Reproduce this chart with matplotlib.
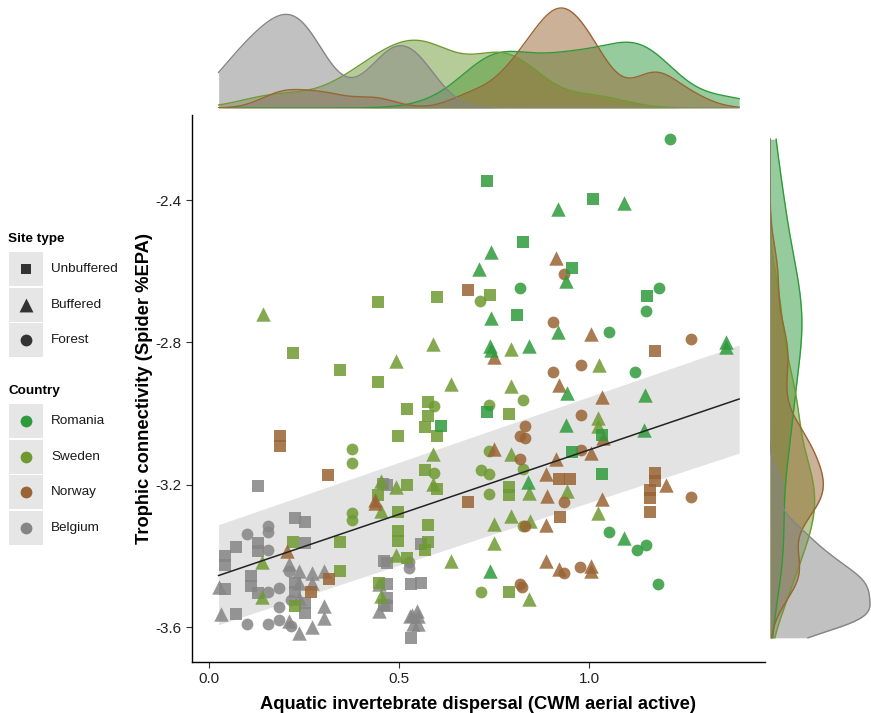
import matplotlib.pyplot as plt
import numpy as np

plt.rcParams['font.family'] = ['Liberation Sans', 'DejaVu Sans']

# ---- data ----
countries = ['Romania', 'Sweden', 'Norway', 'Belgium']
site_types = ['Unbuffered', 'Buffered', 'Forest']

romania_unbuffered = [(0.731, -2.346), (0.825, -2.519), (0.955, -2.592), (0.81, -2.724), (1.011, -2.397),
                      (1.153, -2.669), (0.731, -2.996), (0.611, -3.034), (0.954, -3.108), (1.033, -3.059),
                      (1.033, -3.169)]
romania_buffered = [(0.918, -2.426), (0.741, -2.547), (0.71, -2.594), (0.939, -2.627), (0.742, -2.731),
                    (0.918, -2.77), (0.74, -2.81), (0.742, -2.82), (0.841, -2.811), (1.093, -2.409),
                    (1.361, -2.798), (1.361, -2.812), (0.941, -2.942), (0.939, -3.033), (0.84, -3.193),
                    (0.74, -3.441), (1.147, -2.949), (1.145, -3.045), (1.092, -3.349)]
romania_forest = [(0.817, -2.646), (1.214, -2.229), (1.183, -2.646), (1.149, -2.711), (1.053, -2.77),
                  (1.12, -2.882), (1.053, -3.333), (1.127, -3.382), (1.149, -3.37), (1.182, -3.478)]

sweden_unbuffered = [(0.445, -2.687), (0.222, -2.829), (0.344, -2.878), (0.445, -2.91), (0.599, -2.672),
                     (0.74, -2.666), (0.575, -2.967), (0.521, -2.986), (0.789, -3.0), (0.575, -3.008),
                     (0.568, -3.038), (0.599, -3.062), (0.498, -3.064), (0.568, -3.158), (0.521, -3.202),
                     (0.599, -3.212), (0.789, -3.206), (0.789, -3.23), (0.498, -3.277), (0.575, -3.314),
                     (0.498, -3.329), (0.498, -3.357), (0.575, -3.361), (0.568, -3.382), (0.521, -3.407),
                     (0.789, -3.501), (0.445, -3.228), (0.345, -3.36), (0.222, -3.362), (0.345, -3.441),
                     (0.225, -3.541), (0.446, -3.476)]
sweden_buffered = [(0.141, -2.72), (0.589, -2.804), (0.795, -2.819), (0.492, -2.852), (0.637, -2.918),
                   (0.795, -2.922), (0.589, -3.113), (0.794, -3.113), (0.588, -3.199), (0.492, -3.206),
                   (0.843, -3.223), (0.941, -3.218), (0.795, -3.287), (0.751, -3.31), (0.845, -3.301),
                   (0.751, -3.363), (0.492, -3.396), (0.637, -3.413), (0.843, -3.52), (1.025, -2.863),
                   (1.024, -3.012), (1.024, -3.036), (1.024, -3.279), (0.452, -3.19), (0.452, -3.275),
                   (0.139, -3.416), (0.139, -3.516), (0.452, -3.513)]
sweden_forest = [(0.714, -2.683), (0.593, -2.978), (0.736, -2.975), (0.826, -2.963), (0.736, -3.104),
                 (0.593, -3.167), (0.715, -3.158), (0.736, -3.17), (0.826, -3.156), (0.736, -3.226),
                 (0.826, -3.317), (0.715, -3.502), (0.377, -3.099), (0.377, -3.14), (0.377, -3.279),
                 (0.377, -3.298)]

norway_unbuffered = [(0.681, -2.653), (1.174, -2.825), (0.186, -3.064), (0.186, -3.092), (0.314, -3.173),
                     (0.315, -3.466), (0.267, -3.5), (0.922, -3.185), (0.95, -3.185), (0.681, -3.248),
                     (0.924, -3.29), (1.174, -3.167), (1.174, -3.19), (1.16, -3.214), (1.16, -3.237),
                     (1.16, -3.276)]
norway_buffered = [(0.912, -2.564), (0.749, -2.84), (0.921, -2.92), (0.75, -3.099), (0.913, -3.129),
                   (0.887, -3.17), (0.888, -3.232), (0.887, -3.312), (0.887, -3.415), (0.921, -3.438),
                   (1.006, -2.775), (1.035, -2.953), (1.037, -3.069), (1.006, -3.111), (1.202, -3.202),
                   (1.035, -3.239), (1.006, -3.429), (1.006, -3.441), (0.436, -3.242), (0.436, -3.251),
                   (0.205, -3.387)]
norway_forest = [(0.935, -2.608), (0.905, -2.743), (0.978, -2.863), (0.906, -2.883), (1.269, -2.791),
                 (0.832, -3.036), (0.818, -3.064), (0.832, -3.069), (0.818, -3.129), (0.935, -3.249),
                 (0.832, -3.317), (0.935, -3.449), (0.976, -3.43), (0.818, -3.48), (0.823, -3.486),
                 (0.978, -3.003), (0.978, -3.103), (1.269, -3.235)]

belgium_unbuffered = [(0.129, -3.204), (0.458, -3.197), (0.225, -3.293), (0.253, -3.304), (0.072, -3.375),
                      (0.129, -3.363), (0.129, -3.387), (0.253, -3.364), (0.043, -3.4), (0.043, -3.425),
                      (0.111, -3.457), (0.111, -3.485), (0.043, -3.494), (0.129, -3.504), (0.225, -3.476),
                      (0.225, -3.5), (0.253, -3.532), (0.253, -3.56), (0.072, -3.563), (0.46, -3.415),
                      (0.46, -3.537), (0.468, -3.2), (0.468, -3.42), (0.557, -3.366), (0.468, -3.479),
                      (0.531, -3.479), (0.557, -3.476), (0.468, -3.518), (0.468, -3.541), (0.531, -3.63)]
belgium_buffered = [(0.211, -3.422), (0.237, -3.441), (0.272, -3.449), (0.303, -3.441), (0.025, -3.488),
                    (0.237, -3.476), (0.272, -3.476), (0.236, -3.518), (0.032, -3.563), (0.303, -3.541),
                    (0.303, -3.574), (0.21, -3.583), (0.272, -3.6), (0.236, -3.616), (0.446, -3.48),
                    (0.446, -3.555), (0.533, -3.565), (0.546, -3.556), (0.528, -3.57), (0.55, -3.57),
                    (0.537, -3.59), (0.55, -3.59)]
belgium_forest = [(0.155, -3.315), (0.155, -3.333), (0.1, -3.337), (0.155, -3.384), (0.211, -3.441),
                  (0.155, -3.501), (0.183, -3.49), (0.216, -3.523), (0.183, -3.543), (0.216, -3.597),
                  (0.183, -3.579), (0.1, -3.59), (0.155, -3.59), (0.527, -3.418), (0.527, -3.434)]

# fitted line and its ribbon
fit_x = [0.025, 1.395]
fit_y = [-3.455, -2.959]
fit_lo = [-3.593, -3.111]
fit_hi = [-3.312, -2.807]

x_ticks = [0.0, 0.5, 1.0]
y_ticks = [-2.4, -2.8, -3.2, -3.6]

groups = {
    'Romania': {'Unbuffered': romania_unbuffered, 'Buffered': romania_buffered, 'Forest': romania_forest},
    'Sweden': {'Unbuffered': sweden_unbuffered, 'Buffered': sweden_buffered, 'Forest': sweden_forest},
    'Norway': {'Unbuffered': norway_unbuffered, 'Buffered': norway_buffered, 'Forest': norway_forest},
    'Belgium': {'Unbuffered': belgium_unbuffered, 'Buffered': belgium_buffered, 'Forest': belgium_forest},
}

colors = {'Romania': '#2f9a3c', 'Sweden': '#6f9a33', 'Norway': '#9a6434', 'Belgium': '#858585'}
markers = {'Unbuffered': 's', 'Buffered': '^', 'Forest': 'o'}
msize = {'Unbuffered': 70, 'Buffered': 108, 'Forest': 72}

W, H = 871, 713
fig = plt.figure(figsize=(W / 100, H / 100), dpi=100)


def px_axes(l, t, r, b):
    return fig.add_axes([l / W, 1 - b / H, (r - l) / W, (b - t) / H])


ax = px_axes(192, 115, 765, 662)
ax_top = px_axes(192, 6, 765, 108)
ax_right = px_axes(770, 115, 871, 662)

# ribbon + points + line
ax.fill_between(fit_x, fit_lo, fit_hi, color='#e3e3e3', lw=0, zorder=1)
for c in ['Belgium', 'Sweden', 'Norway', 'Romania']:
    for s in site_types:
        pts = np.array(groups[c][s])
        ax.scatter(pts[:, 0], pts[:, 1], s=msize[s], marker=markers[s], color=colors[c],
                   alpha=0.85, linewidths=0, zorder=2)
ax.plot(fit_x, fit_y, color='#222222', lw=1.1, zorder=3)

ax.set_xlim(-0.045, 1.463)
ax.set_ylim(-3.698, -2.161)
ax.set_xticks(x_ticks)
ax.set_xticklabels(['%.1f' % v for v in x_ticks])
ax.set_yticks(y_ticks)
ax.set_yticklabels(['%.1f' % v for v in y_ticks])
for sp in ['top', 'right']:
    ax.spines[sp].set_visible(False)
for sp in ['left', 'bottom']:
    ax.spines[sp].set_linewidth(1.0)
ax.tick_params(length=4, width=0.8, colors='#333333', labelsize=11, labelcolor='#222222')
ax.set_xlabel('Aquatic invertebrate dispersal (CWM aerial active)', fontsize=13.2,
              fontweight='bold', labelpad=7)
ax.set_ylabel('Trophic connectivity (Spider %EPA)', fontsize=13.2, fontweight='bold', labelpad=1.5)


# marginal densities (gaussian KDE, Silverman bandwidth like R's bw.nrd0)
def kde(vals, grid):
    v = np.asarray(vals)
    n = len(v)
    iqr = np.percentile(v, 75) - np.percentile(v, 25)
    bw = 0.9 * min(v.std(ddof=1), iqr / 1.34) * n ** -0.2
    z = (grid[:, None] - v[None, :]) / bw
    return np.exp(-0.5 * z ** 2).sum(1) / (n * bw * np.sqrt(2 * np.pi))


all_pts = np.array([p for c in countries for s in site_types for p in groups[c][s]])
gx = np.linspace(min(fit_x), max(fit_x), 400)
gy = np.linspace(all_pts[:, 1].min(), all_pts[:, 1].max(), 400)
top_max, right_max = 0, 0
for c in countries:
    pts = np.array([p for s in site_types for p in groups[c][s]])
    dx = kde(pts[:, 0], gx)
    dy = kde(pts[:, 1], gy)
    top_max = max(top_max, dx.max())
    right_max = max(right_max, dy.max())
    ax_top.fill_between(gx, 0, dx, color=colors[c], alpha=0.5, lw=0)
    ax_top.plot(gx, dx, color=colors[c], lw=1)
    ax_right.fill_betweenx(gy, 0, dy, color=colors[c], alpha=0.5, lw=0)
    ax_right.plot(dy, gy, color=colors[c], lw=1)

ax_top.set_xlim(ax.get_xlim())
ax_top.set_ylim(0, top_max * 1.02)
ax_top.axis('off')
ax_right.set_ylim(ax.get_ylim())
ax_right.set_xlim(0, right_max * 1.01)
ax_right.axis('off')

# legend drawn by hand in pixel coordinates
leg = fig.add_axes([0, 0, 1, 1], zorder=-1)
leg.set_xlim(0, W)
leg.set_ylim(H, 0)
leg.axis('off')


def legend_block(title, ty, labels, handles):
    leg.text(8, ty, title, fontsize=9.7, fontweight='bold', va='center', ha='left')
    for i, (lab, (mk, col)) in enumerate(zip(labels, handles)):
        cy = ty + 30 + i * 35.5
        leg.add_patch(plt.Rectangle((9, cy - 17), 34, 34, color='#e6e6e6', lw=0))
        size = {'s': 55, '^': 100, 'o': 72}[mk]
        leg.scatter([26], [cy], marker=mk, s=size, color=col, linewidths=0)
        leg.text(51, cy, lab, fontsize=9.7, va='center', ha='left', color='#1a1a1a')


legend_block('Site type', 239, site_types, [(markers[s], '#333333') for s in site_types])
legend_block('Country', 391, countries, [('o', colors[c]) for c in countries])

fig.savefig('out.png', dpi=100)
